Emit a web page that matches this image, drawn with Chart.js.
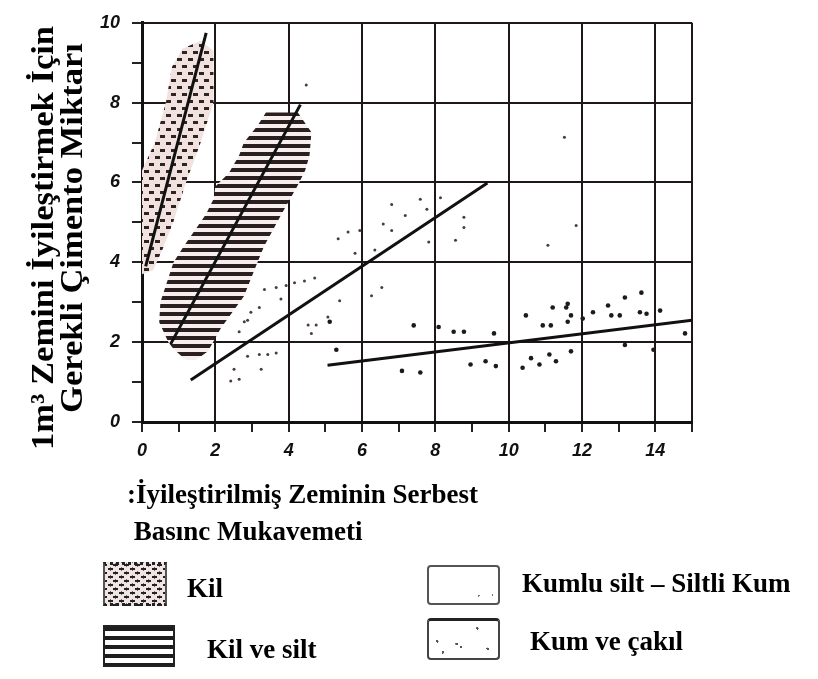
<!DOCTYPE html>
<html>
<head>
<meta charset="utf-8">
<script src="https://cdn.jsdelivr.net/npm/chart.js@4.4.1/dist/chart.umd.min.js"></script>
<style>
  body { margin: 0; background: #fff; }
  #wrap { position: relative; width: 818px; height: 679px; }
  #chart1 { position: absolute; left: 0; top: 0; }
  .sw { position: absolute; box-sizing: border-box; }
  .lbl { position: absolute; font: bold 27px "Liberation Serif", serif; line-height: 27px; color: #000; white-space: nowrap; }
  .sw-kil {
    left: 103px; top: 562px; width: 64px; height: 44px;
    background-color: #f1e5e3;
    background-image: radial-gradient(ellipse 2.8px 1.6px at center, #222 0 90%, transparent 100%),
                      radial-gradient(ellipse 2.8px 1.6px at center, #222 0 90%, transparent 100%);
    background-size: 11px 8px, 11px 8px;
    background-position: 0 0, 5px 4px;
    border-top: 3px dotted #222; border-bottom: 3px dotted #222;
    border-left: 2px solid #555; border-right: 2px solid #555;
  }
  .sw-silt {
    left: 103px; top: 625px; width: 72px; height: 42px;
    background: repeating-linear-gradient(to bottom, #1e1e1e 0 4px, #fff 4px 9px);
    border: 2px solid #222;
  }
  .sw-kumlu {
    left: 427px; top: 565px; width: 73px; height: 40px;
    border: 2px solid #555; border-radius: 4px;
    background-image: radial-gradient(circle 1px at 72% 80%, #777 0 90%, transparent 100%),
                      radial-gradient(circle 1px at 92% 78%, #777 0 90%, transparent 100%);
  }
  .sw-cakil {
    left: 427px; top: 618px; width: 73px; height: 42px;
    border: 2px solid #444; border-top: 3px solid #222; border-radius: 4px;
    background-image: radial-gradient(circle 1.3px at 70% 20%, #555 0 90%, transparent 100%),
                      radial-gradient(circle 1.3px at 40% 62%, #555 0 90%, transparent 100%),
                      radial-gradient(circle 1.3px at 46% 70%, #555 0 90%, transparent 100%),
                      radial-gradient(circle 1.3px at 12% 55%, #555 0 90%, transparent 100%),
                      radial-gradient(circle 1.3px at 85% 75%, #555 0 90%, transparent 100%),
                      radial-gradient(circle 1.3px at 20% 85%, #555 0 90%, transparent 100%);
  }
</style>
</head>
<body>
<div id="wrap">
  <canvas id="chart1" width="818" height="679"></canvas>
  <div class="sw sw-kil"></div>
  <div class="lbl" style="left:187px; top:575px;">Kil</div>
  <div class="sw sw-silt"></div>
  <div class="lbl" style="left:207px; top:636px;">Kil ve silt</div>
  <div class="sw sw-kumlu"></div>
  <div class="lbl" style="left:522px; top:570px;">Kumlu silt – Siltli Kum</div>
  <div class="sw sw-cakil"></div>
  <div class="lbl" style="left:530px; top:628px;">Kum ve çakıl</div>
</div>
<script>
var xTicks = [0, 2, 4, 6, 8, 10, 12, 14]
var yTicks = [0, 2, 4, 6, 8, 10]

var yTitle = ['1m³ Zemini İyileştirmek İçin', 'Gerekli Çimento Miktarı']
var xTitle = [':İyileştirilmiş Zeminin Serbest', ' Basınc Mukavemeti']

// trend lines
var kilLineX = [0.1, 1.75]
var kilLineY = [3.9, 9.75]
var kilSiltLineX = [0.78, 4.32]
var kilSiltLineY = [1.95, 7.95]
var kumluLineX = [1.33, 9.42]
var kumluLineY = [1.05, 5.99]
var cakilLineX = [5.06, 15.0]
var cakilLineY = [1.42, 2.55]

// shaded zones (outline, clockwise)
var kilAreaX = [0.0, 0.0, 0.35, 0.65, 0.82, 1.1, 1.6, 1.95, 1.95, 1.6, 1.2, 0.85, 0.55, 0.3, 0.0]
var kilAreaY = [3.7, 6.3, 7.0, 8.0, 8.9, 9.35, 9.55, 9.3, 8.0, 7.0, 6.0, 5.0, 4.3, 3.8, 3.7]

var kilSiltAreaX = [3.38, 4.25, 4.62, 4.57, 4.45, 4.26, 3.8, 3.33, 3.15, 2.78, 2.15, 1.8, 1.47, 1.2, 1.05, 0.86, 0.72, 0.47, 0.5, 0.86, 1.14, 1.74, 1.96, 2.0, 2.37, 2.65, 2.78, 3.15, 3.38]
var kilSiltAreaY = [7.75, 7.75, 7.26, 6.68, 6.3, 5.95, 5.2, 4.4, 4.0, 3.15, 2.35, 1.77, 1.55, 1.55, 1.67, 1.83, 2.0, 2.5, 3.0, 4.0, 4.4, 5.2, 5.6, 5.9, 6.24, 6.68, 7.0, 7.42, 7.75]

// scattered observations
var kumluX = [6.81, 7.59, 7.18, 7.77, 6.58, 6.81, 5.62, 5.35, 5.94, 5.81, 6.35, 7.82, 8.55, 8.78, 8.78, 8.14, 4.71, 4.43, 4.16, 3.93, 3.66, 3.34, 3.79, 3.20, 2.97, 2.79, 5.39, 5.07, 4.53, 4.75, 4.62, 6.54, 6.26, 2.88, 3.20, 3.43, 3.66, 2.51, 3.25, 2.42, 2.65, 2.88, 2.65, 4.48, 11.52, 11.84, 11.07]
var kumluY = [5.45, 5.58, 5.17, 5.33, 4.96, 4.80, 4.76, 4.59, 4.80, 4.23, 4.31, 4.51, 4.55, 5.13, 4.87, 5.62, 3.61, 3.53, 3.49, 3.42, 3.37, 3.32, 3.08, 2.87, 2.75, 2.51, 3.04, 2.63, 2.43, 2.43, 2.22, 3.37, 3.16, 1.65, 1.69, 1.69, 1.73, 1.32, 1.32, 1.03, 1.07, 2.55, 2.26, 8.44, 7.13, 4.92, 4.43]

var cakilX = [7.41, 8.09, 8.50, 8.78, 9.60, 10.47, 11.20, 11.61, 11.70, 11.15, 10.93, 11.61, 12.02, 12.30, 12.71, 12.80, 13.03, 13.17, 13.62, 13.58, 13.76, 14.13, 14.81, 7.09, 7.59, 8.96, 9.37, 9.65, 10.38, 10.61, 10.84, 11.11, 11.29, 11.70, 13.17, 13.95, 5.30, 5.12, 11.57]
var cakilY = [2.42, 2.38, 2.26, 2.26, 2.22, 2.67, 2.87, 2.96, 2.67, 2.42, 2.42, 2.51, 2.59, 2.75, 2.92, 2.67, 2.67, 3.12, 3.24, 2.75, 2.71, 2.79, 2.22, 1.28, 1.24, 1.44, 1.52, 1.40, 1.36, 1.60, 1.44, 1.69, 1.52, 1.77, 1.93, 1.81, 1.81, 2.51, 2.87]

function pts(xs, ys) {
    return xs.map(function (x, i) { return { x: x, y: ys[i] } })
}

// fill patterns
function makePattern(w, h, draw) {
    var c = document.createElement('canvas')
    c.width = w
    c.height = h
    var g = c.getContext('2d')
    draw(g)
    return g.createPattern(c, 'repeat')
}
var dotsPattern = makePattern(11, 14, function (g) {
    g.fillStyle = '#f1e2df'
    g.fillRect(0, 0, 11, 14)
    g.fillStyle = '#2e2424'
    g.fillRect(1, 2, 5, 3)
    g.fillRect(6, 9, 5, 3)
})
var stripePattern = makePattern(8, 8, function (g) {
    g.fillStyle = '#f7efee'
    g.fillRect(0, 0, 8, 8)
    g.fillStyle = '#2b1f1f'
    g.fillRect(0, 0, 8, 4)
})

var axisTitles = {
    id: 'axisTitles',
    afterDraw: function (chart) {
        var ctx = chart.ctx
        ctx.save()
        ctx.fillStyle = '#000'
        ctx.font = 'bold 32px "Liberation Serif", serif'
        ctx.textAlign = 'center'
        ctx.textBaseline = 'alphabetic'
        var yPos = [[53, 238], [82, 228]]
        yTitle.forEach(function (t, i) {
            ctx.save()
            ctx.translate(yPos[i][0], yPos[i][1])
            ctx.rotate(-Math.PI / 2)
            ctx.scale(1.08, 1)
            ctx.fillText(t, 0, 0)
            ctx.restore()
        })
        ctx.font = 'bold 27px "Liberation Serif", serif'
        ctx.textAlign = 'left'
        ctx.fillText(xTitle[0], 127, 503)
        ctx.fillText(xTitle[1], 127, 540)
        ctx.restore()
    }
}

var tickFont = { family: '"Liberation Sans", sans-serif', size: 18, style: 'italic', weight: 'bold' }
var gridDark = '#1f1717'

var chart1 = new Chart(
    document.getElementById('chart1'),
    {
        type: 'line',
        data: {
            datasets: [
                {
                    label: 'Kil',
                    data: pts(kilAreaX, kilAreaY),
                    fill: 'shape',
                    backgroundColor: dotsPattern,
                    borderWidth: 0,
                    pointRadius: 0,
                    order: 2,
                },
                {
                    label: 'Kil ve silt',
                    data: pts(kilSiltAreaX, kilSiltAreaY),
                    fill: 'shape',
                    backgroundColor: stripePattern,
                    borderWidth: 0,
                    pointRadius: 0,
                    order: 2,
                },
                {
                    type: 'scatter',
                    label: 'Kumlu silt – Siltli Kum',
                    data: pts(kumluX, kumluY),
                    backgroundColor: '#4a3c3c',
                    borderWidth: 0,
                    pointRadius: 1.5,
                    order: 1,
                },
                {
                    type: 'scatter',
                    label: 'Kum ve çakıl',
                    data: pts(cakilX, cakilY),
                    backgroundColor: '#1e1a1a',
                    borderWidth: 0,
                    pointRadius: 2.3,
                    order: 1,
                },
                { label: 'Kil line', data: pts(kilLineX, kilLineY), borderColor: '#111', borderWidth: 3, pointRadius: 0, order: 0 },
                { label: 'Kil ve silt line', data: pts(kilSiltLineX, kilSiltLineY), borderColor: '#111', borderWidth: 3, pointRadius: 0, order: 0 },
                { label: 'Kumlu silt line', data: pts(kumluLineX, kumluLineY), borderColor: '#111', borderWidth: 3, pointRadius: 0, order: 0 },
                { label: 'Kum ve çakıl line', data: pts(cakilLineX, cakilLineY), borderColor: '#111', borderWidth: 3, pointRadius: 0, order: 0 },
            ]
        },
        options: {
            responsive: false,
            animation: false,
            layout: { padding: { left: 0, top: 15, right: 126, bottom: 0 } },
            plugins: {
                legend: { display: false },
                tooltip: { enabled: false }
            },
            scales: {
                x: {
                    type: 'linear',
                    min: 0,
                    max: 15,
                    afterFit: function (s) { s.height = 257 },
                    ticks: {
                        stepSize: 1,
                        autoSkip: false,
                        maxRotation: 0,
                        padding: 8,
                        color: '#111',
                        font: tickFont,
                        callback: function (v) { return xTicks.indexOf(v) >= 0 ? String(v) : '' }
                    },
                    grid: {
                        color: function (c) { return (c.tick.value % 2 === 0 || c.tick.value === 15) ? gridDark : 'rgba(0,0,0,0)' },
                        lineWidth: 2,
                        tickLength: 10,
                        tickColor: '#222',
                        tickWidth: 2
                    },
                    border: { color: '#111', width: 3 }
                },
                y: {
                    min: 0,
                    max: 10,
                    afterFit: function (s) { s.width = 142 },
                    ticks: {
                        stepSize: 1,
                        autoSkip: false,
                        padding: 12,
                        color: '#111',
                        font: tickFont,
                        callback: function (v) { return yTicks.indexOf(v) >= 0 ? String(v) : '' }
                    },
                    grid: {
                        color: function (c) { return c.tick.value % 2 === 0 ? gridDark : 'rgba(0,0,0,0)' },
                        lineWidth: 2,
                        tickLength: 10,
                        tickColor: '#222',
                        tickWidth: 2
                    },
                    border: { color: '#111', width: 3 }
                }
            }
        },
        plugins: [axisTitles]
    }
);
</script>
</body>
</html>
